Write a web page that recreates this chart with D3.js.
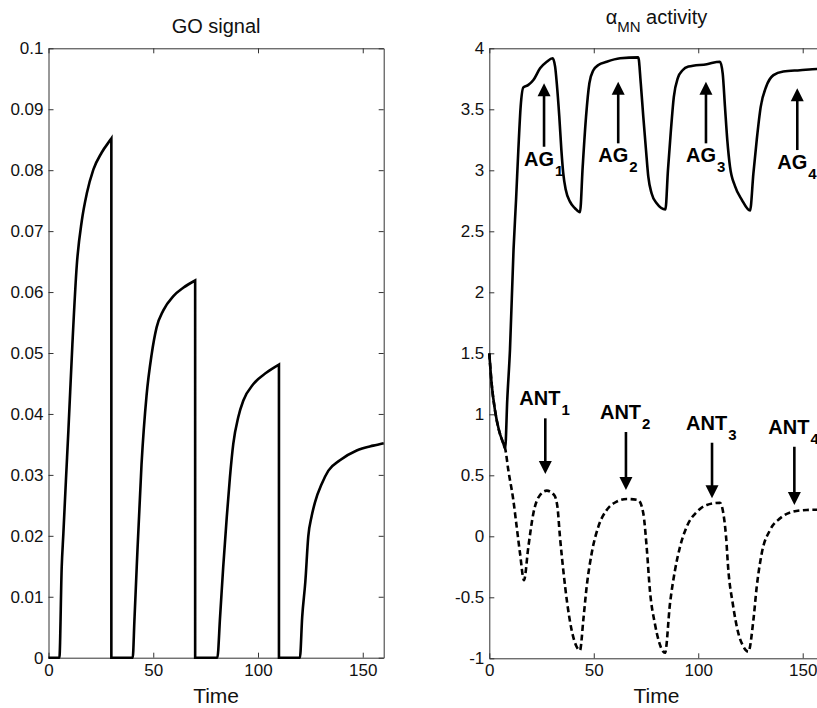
<!DOCTYPE html>
<html>
<head>
<meta charset="utf-8">
<script src="https://cdn.jsdelivr.net/npm/d3@7"></script>
<style>
body { margin: 0; background: #fff; }
svg { display: block; font-family: "Liberation Sans", Arial, sans-serif; }
</style>
</head>
<body>
<svg id="chart" width="817" height="708"></svg>
<script>
const timeTicks = [0, 50, 100, 150];
const goTicks = [0, 0.01, 0.02, 0.03, 0.04, 0.05, 0.06, 0.07, 0.08, 0.09, 0.1];
const alphaTicks = [-1, -0.5, 0, 0.5, 1, 1.5, 2, 2.5, 3, 3.5, 4];

// GO signal, repeated time = vertical drop
const goTime = [0, 5.2, 6.3, 7.1, 8.3, 9.5, 11.4, 13.5, 15.9, 18.3, 21.4, 25.4, 29.8, 30, 30,
    40.2, 41, 42.1, 44.4, 46.8, 49.2, 51.6, 54.8, 59.5, 64.3, 70, 70,
    80.6, 81.9, 83.4, 85.1, 86.6, 88.2, 90.6, 93, 97.8, 104.1, 110, 110,
    120, 121.1, 122.6, 124, 125.6, 127.2, 130.4, 133.6, 139.1, 147.1, 155, 160];
const goValue = [0, 0, 0.0148, 0.0204, 0.029, 0.0373, 0.0514, 0.0644, 0.0717, 0.0762, 0.0801, 0.0829, 0.0851, 0.0852, 0,
    0, 0.006, 0.0148, 0.0317, 0.043, 0.0497, 0.0542, 0.057, 0.0593, 0.0607, 0.0619, 0,
    0, 0.0067, 0.0149, 0.0231, 0.0296, 0.0351, 0.0395, 0.0422, 0.0449, 0.0468, 0.0481, 0,
    0, 0.0067, 0.0125, 0.0199, 0.0232, 0.0255, 0.0285, 0.0307, 0.0324, 0.034, 0.0348, 0.0352];

// alpha MN activity: agonist (solid) and antagonist (dashed)
const agTime = [0, 1.1, 2.7, 4.6, 6.7, 7.6, 8.6, 9.9, 11.6, 12.8, 13.9, 15, 16.3, 18.7, 21.1, 24.3, 27.5, 30.3,
    31.5, 32.3, 33.5, 34.5, 35.4, 36.6, 38.6, 41, 43.4, 44.7, 46.3, 47.9, 49.8, 52.2, 56.2, 62.6, 71.3,
    72.5, 73.7, 75, 76.1, 77.7, 80.1, 84.3, 85.5, 86.8, 88.3, 90.3, 92.5, 95.3, 104.1, 110.4,
    111.7, 112.8, 113.9, 115.2, 117.6, 120.8, 124.8, 126.4, 128, 129.9, 132.5, 136, 140.7, 148.7, 156.9, 160];
const agValue = [1.5, 1.254, 1.035, 0.871, 0.762, 0.72, 1.12, 1.53, 2.35, 2.757, 3.166, 3.52, 3.68, 3.7, 3.74, 3.836, 3.89, 3.918,
    3.85, 3.713, 3.44, 3.166, 2.975, 2.84, 2.743, 2.689, 2.656, 3.03, 3.44, 3.713, 3.82, 3.863, 3.89, 3.918, 3.926,
    3.713, 3.44, 3.166, 2.948, 2.81, 2.73, 2.68, 3.0, 3.3, 3.6, 3.76, 3.82, 3.85, 3.87, 3.89,
    3.795, 3.52, 3.25, 3.03, 2.87, 2.76, 2.67, 2.975, 3.25, 3.52, 3.685, 3.78, 3.81, 3.82, 3.83, 3.83];

const antTime = [0, 1.1, 2.7, 4.6, 6.7, 7.6, 9.1, 11.5, 13.1, 14.7, 16.6, 18.7, 21.1, 24.3, 27.5, 31, 32.6,
    33.8, 35.4, 37.3, 39.4, 41.8, 43.4, 45, 46.6, 49, 52.2, 56.2, 61, 65.8, 71.3, 73.7,
    75.3, 76.9, 79.3, 81.5, 84.1, 86.5, 88.9, 91.3, 94.5, 99.3, 104.1, 110.4, 112,
    113.3, 114.4, 116.5, 119.2, 121.5, 124, 126.4, 128, 130.4, 134.4, 139.2, 145.5, 151.9, 156.9, 160];
const antValue = [1.5, 1.254, 1.035, 0.871, 0.762, 0.72, 0.543, 0.297, 0.079, -0.139, -0.36, -0.085, 0.189, 0.339, 0.374, 0.339, 0.243,
    0, -0.276, -0.549, -0.768, -0.905, -0.935, -0.686, -0.413, -0.139, 0.079, 0.216, 0.284, 0.306, 0.297, 0.189,
    -0.085, -0.45, -0.72, -0.88, -0.955, -0.549, -0.276, -0.085, 0.079, 0.2, 0.257, 0.275, 0.189,
    0, -0.276, -0.549, -0.795, -0.9, -0.946, -0.686, -0.413, -0.139, 0.052, 0.148, 0.202, 0.216, 0.218, 0.218];

// annotation arrows (time, tail value, tip value)
const agArrowTime = [26.2, 61.7, 103.7, 147.4];
const agArrowFrom = [3.193, 3.221, 3.221, 3.166];
const agArrowTo = [3.713, 3.726, 3.726, 3.672];
const antArrowTime = [26.8, 65.4, 106.6, 146];
const antArrowFrom = [0.967, 0.855, 0.767, 0.734];
const antArrowTo = [0.51, 0.38, 0.311, 0.257];
const arrowIndex = ["1", "2", "3", "4"];

const svg = d3.select("#chart");
const INK = "#000";
const AXIS = "#333";

const xL = d3.scaleLinear([0, 160], [48.5, 383.7]);
const yL = d3.scaleLinear([0, 0.1], [657.7, 48.3]);
const xR = d3.scaleLinear([0, 160], [489.3, 823.6]);
const yR = d3.scaleLinear([-1, 4], [658.3, 48.3]);

function drawFrame(x, y, yTicks) {
    const g = svg.append("g");
    const y0 = y.range()[0], y1 = y.range()[1];
    const x0 = x.range()[0], x1 = x.range()[1];
    const fmt = d => String(d);

    g.append("g").attr("transform", `translate(0,${y0})`)
        .call(d3.axisBottom(x).tickValues(timeTicks).tickSizeInner(-5).tickSizeOuter(0).tickPadding(6).tickFormat(fmt));
    g.append("g").attr("transform", `translate(0,${y1})`)
        .call(d3.axisTop(x).tickValues(timeTicks).tickSizeInner(-5).tickSizeOuter(0).tickFormat(""));
    g.append("g").attr("transform", `translate(${x0},0)`)
        .call(d3.axisLeft(y).tickValues(yTicks).tickSizeInner(-5).tickSizeOuter(0).tickPadding(5).tickFormat(fmt));
    g.append("g").attr("transform", `translate(${x1},0)`)
        .call(d3.axisRight(y).tickValues(yTicks).tickSizeInner(-5).tickSizeOuter(0).tickFormat(""));

    g.selectAll(".domain, .tick line").attr("stroke", AXIS).attr("stroke-width", 1);
    g.selectAll("text").attr("font-size", 17).attr("font-family", null).attr("fill", "#111");
    g.selectAll("g").attr("font-family", null).attr("font-size", null);

    svg.append("text")
        .attr("x", (x0 + x1) / 2).attr("y", 703)
        .attr("text-anchor", "middle").attr("font-size", 21).attr("fill", "#111")
        .text("Time");
}

// one continuous path; repeated times become straight vertical segments
function seriesPath(x, y, ts, vs) {
    const runs = [[]];
    ts.forEach((t, i) => {
        if (i > 0 && t === ts[i - 1]) runs.push([]);
        runs[runs.length - 1].push([x(t), y(vs[i])]);
    });
    const line = d3.line().curve(d3.curveMonotoneX);
    return runs.map((r, i) => {
        const d = r.length > 1 ? line(r) : `M${r[0][0]},${r[0][1]}`;
        return i === 0 ? d : "L" + d.slice(1);
    }).join("");
}

function drawLine(x, y, ts, vs, dash) {
    svg.append("path")
        .attr("d", seriesPath(x, y, ts, vs))
        .attr("fill", "none").attr("stroke", INK)
        .attr("stroke-width", 2.6)
        .attr("stroke-linejoin", "miter")
        .attr("stroke-dasharray", dash);
}

function drawArrow(px, yFrom, yTo) {
    const dir = yTo < yFrom ? 1 : -1;   // 1 = pointing up
    const head = 13, half = 6.5;
    svg.append("line")
        .attr("x1", px).attr("x2", px)
        .attr("y1", yFrom).attr("y2", yTo + dir * (head - 1))
        .attr("stroke", INK).attr("stroke-width", 2.6);
    svg.append("path")
        .attr("d", `M${px},${yTo}L${px - half},${yTo + dir * head}L${px + half},${yTo + dir * head}Z`)
        .attr("fill", INK);
}

function drawLabel(px, py, main, sub) {
    const t = svg.append("text")
        .attr("x", px).attr("y", py)
        .attr("font-size", 20).attr("font-weight", "bold").attr("fill", INK)
        .text(main);
    t.append("tspan").attr("dy", 10).attr("dx", 1).attr("font-size", 15).text(sub);
}

// left panel
drawFrame(xL, yL, goTicks);
drawLine(xL, yL, goTime, goValue, null);
svg.append("text")
    .attr("x", (xL.range()[0] + xL.range()[1]) / 2).attr("y", 33)
    .attr("text-anchor", "middle").attr("font-size", 20).attr("fill", "#111")
    .text("GO signal");

// right panel
drawFrame(xR, yR, alphaTicks);
drawLine(xR, yR, antTime, antValue, "6,3.5");
drawLine(xR, yR, agTime, agValue, null);

const title = svg.append("text")
    .attr("x", (xR.range()[0] + xR.range()[1]) / 2).attr("y", 24)
    .attr("text-anchor", "middle").attr("font-size", 20).attr("fill", "#111");
title.append("tspan").text("α");
title.append("tspan").attr("dy", 8).attr("font-size", 15).text("MN");
title.append("tspan").attr("dy", -8).text(" activity");

agArrowTime.forEach((t, i) => {
    const px = xR(t), tail = yR(agArrowFrom[i]), tip = yR(agArrowTo[i]);
    drawArrow(px, tail, tip);
    drawLabel(px - 20, tail + 19, "AG", arrowIndex[i]);
});
antArrowTime.forEach((t, i) => {
    const px = xR(t), tail = yR(antArrowFrom[i]), tip = yR(antArrowTo[i]);
    drawArrow(px, tail, tip);
    drawLabel(px - 26, tail - 13, "ANT", arrowIndex[i]);
});
</script>
</body>
</html>
